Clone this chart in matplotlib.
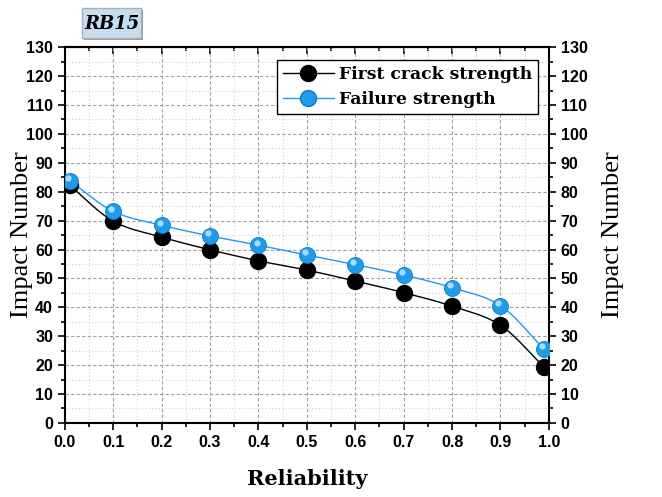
import numpy as np
import matplotlib
matplotlib.use("Agg")
import matplotlib.pyplot as plt
from matplotlib import font_manager
from matplotlib.font_manager import FontProperties
from matplotlib.patches import Rectangle
from matplotlib.ticker import MultipleLocator

reliability = [0.01, 0.1, 0.2, 0.3, 0.4, 0.5, 0.6, 0.7, 0.8, 0.9, 0.99]
first_crack = [82.2, 69.8, 64.3, 59.9, 56.1, 52.9, 49.1, 45.1, 40.4, 33.8, 19.4]
failure = [83.8, 73.2, 68.4, 64.7, 61.5, 58.1, 54.8, 51.2, 46.8, 40.6, 25.6]

BLUE = "#1E9BEB"


def smooth(x, y, n=20):
    # Catmull-Rom curve through the points, for the drawn line only
    x = np.asarray(x, float)
    y = np.asarray(y, float)
    px = np.concatenate([[2 * x[0] - x[1]], x, [2 * x[-1] - x[-2]]])
    py = np.concatenate([[2 * y[0] - y[1]], y, [2 * y[-1] - y[-2]]])
    t = np.linspace(0, 1, n)[:, None]
    xs, ys = [], []
    for i in range(1, len(px) - 2):
        for arr, out in ((px, xs), (py, ys)):
            p0, p1, p2, p3 = arr[i - 1], arr[i], arr[i + 1], arr[i + 2]
            v = 0.5 * (2 * p1 + (-p0 + p2) * t + (2 * p0 - 5 * p1 + 4 * p2 - p3) * t ** 2
                       + (-p0 + 3 * p1 - 3 * p2 + p3) * t ** 3)
            out.append(v.ravel())
    return np.concatenate(xs), np.concatenate(ys)


# regular-width Liberation Sans Bold (Arial stand-in)
tick_font = FontProperties(family="DejaVu Sans", weight="bold", size=11.5)
for f in font_manager.fontManager.ttflist:
    if f.name == "Liberation Sans" and f.weight in (700, "bold") and f.style == "normal":
        tick_font = FontProperties(fname=f.fname, size=11.5)
        break

fig = plt.figure(figsize=(6.62, 4.97), dpi=100)
ax = fig.add_axes([0.098, 0.149, 0.731, 0.756])

sx, sy = smooth(reliability, first_crack)
ax.plot(sx, sy, color="black", lw=1.0, zorder=3)
ax.plot(reliability, first_crack, "o", color="black", ms=11.5, zorder=4)

sx, sy = smooth(reliability, failure)
ax.plot(sx, sy, color=BLUE, lw=1.0, zorder=3)
ax.plot(reliability, failure, "o", color=BLUE, mec="#0C7CC8", mew=0.6, ms=11.5, zorder=5)
# glossy highlight on the blue markers
ax.plot(np.array(reliability) - 0.004, np.array(failure) + 0.9, "o",
        color="#A8DCFA", mec="none", ms=4.5, zorder=6)

# legend proxies
ax.plot([], [], "-o", color="black", ms=11.5, lw=1.0, label="First crack strength")
ax.plot([], [], "-o", color=BLUE, mec="#0C7CC8", ms=11.5, lw=1.0, label="Failure strength")
h, l = ax.get_legend_handles_labels()
leg = ax.legend(h[-2:], l[-2:], loc="upper right", bbox_to_anchor=(0.985, 0.975),
                frameon=True, fancybox=False, edgecolor="black", framealpha=1,
                prop={"family": "DejaVu Serif", "weight": "bold", "size": 12.3},
                handlelength=3.0, borderpad=0.35, labelspacing=0.45, handletextpad=0.3,
                borderaxespad=0.2)
leg.get_frame().set_linewidth(1.0)
leg.set_zorder(10)

ax.set_xlim(0, 1.0)
ax.set_ylim(0, 130)
ax.xaxis.set_major_locator(MultipleLocator(0.1))
ax.xaxis.set_minor_locator(MultipleLocator(0.05))
ax.yaxis.set_major_locator(MultipleLocator(10))
ax.yaxis.set_minor_locator(MultipleLocator(5))
ax.grid(which="major", color="#A0A0A0", ls=(0, (3, 2)), lw=0.8)
ax.grid(which="minor", color="#D0D0D0", ls=(0, (1, 2)), lw=0.8)
ax.set_axisbelow(True)

for s in ax.spines.values():
    s.set_linewidth(1.5)
ax.tick_params(which="both", direction="out", width=1.2, top=False, right=True,
               labelright=True)
ax.tick_params(which="major", length=5)
ax.tick_params(which="minor", length=3)
for lab in ax.get_xticklabels() + ax.get_yticklabels():
    lab.set_fontproperties(tick_font)
for t in ax.yaxis.get_major_ticks():
    t.label2.set_fontproperties(tick_font)

# top axis: inward ticks, no labels
top = ax.secondary_xaxis("top")
top.xaxis.set_major_locator(MultipleLocator(0.1))
top.xaxis.set_minor_locator(MultipleLocator(0.05))
top.tick_params(which="both", direction="in", width=1.2, labeltop=False)
top.tick_params(which="major", length=5)
top.tick_params(which="minor", length=3)
top.spines["top"].set_linewidth(1.5)

ax.set_xlabel("Reliability", fontfamily="DejaVu Serif", fontweight="bold",
              fontsize=15, labelpad=14)
ax.set_ylabel("Impact Number", fontfamily="Liberation Serif", fontsize=19)
ax.yaxis.set_label_coords(-0.066, 0.5)
fig.text(0.926, 0.527, "Impact Number", rotation=90, ha="center", va="center",
         fontfamily="Liberation Serif", fontsize=19)

# title tag: shadow box, light-blue box, bold italic text
fig.add_artist(Rectangle((0.127, 0.919), 0.089, 0.061, transform=fig.transFigure,
                         fc="#9A9A9A", ec="none"))
fig.add_artist(Rectangle((0.124, 0.923), 0.089, 0.061, transform=fig.transFigure,
                         fc="#C6DDF0", ec="#B0B0B0", lw=1.0))
fig.text(0.1685, 0.952, "RB15", ha="center", va="center", fontfamily="DejaVu Serif",
         fontweight="bold", fontstyle="italic", fontsize=13)

fig.savefig("out.png", dpi=100)
